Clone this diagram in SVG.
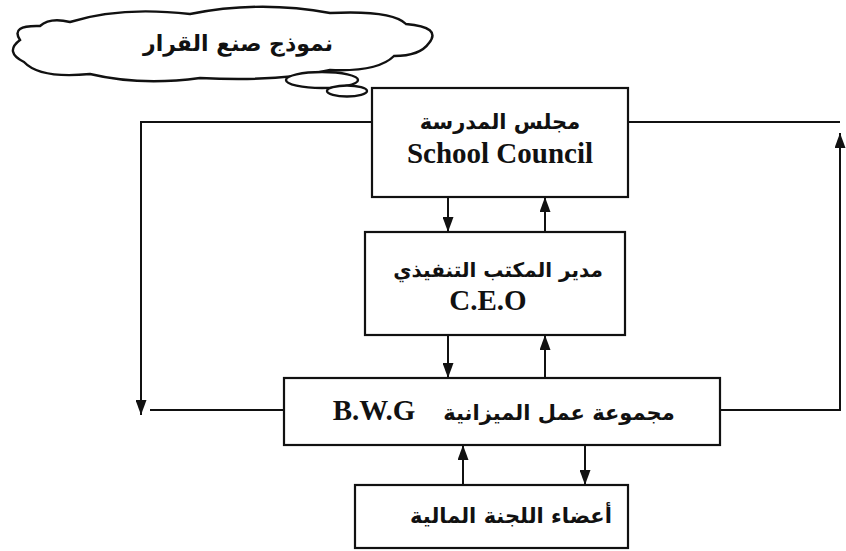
<svg xmlns="http://www.w3.org/2000/svg" width="846" height="551" viewBox="0 0 846 551">
<style>
.box{fill:#fff;stroke:#111;stroke-width:2.2}
.ln{fill:none;stroke:#111;stroke-width:2}
.ar{font-family:"DejaVu Sans","Noto Sans",sans-serif;font-weight:bold;fill:#111;text-anchor:middle}
.en{font-family:"Liberation Serif","Times New Roman",serif;font-weight:bold;fill:#111;text-anchor:middle}
.cloud{fill:#fff;stroke:#111;stroke-width:2.4}
</style>
<defs>
<marker id="ah" markerUnits="userSpaceOnUse" markerWidth="15" markerHeight="11" refX="15" refY="5.5" viewBox="0 0 15 11" orient="auto">
<path d="M0,0 L15,5.5 L0,11 Z" fill="#111"/>
</marker>
</defs>
<rect width="846" height="551" fill="#fff"/>
<g id="cloud">
<path class="cloud" d="M70,22 Q120,6 190,14 Q260,0 330,13 Q392,10 406,24 Q442,27 429,43 Q420,56 394,56 Q378,72 330,70 Q280,82 200,78 Q140,86 90,74 Q40,79 24,62 Q4,52 20,40 Q10,25 40,26 Q50,17 70,22 Z"/>
<ellipse class="cloud" cx="322" cy="80" rx="36" ry="8"/>
<ellipse class="cloud" cx="347" cy="91" rx="20" ry="5.5"/>
<text class="ar" x="238" y="51" font-size="22">نموذج صنع القرار</text>
</g>
<g id="connectors">
<line class="ln" x1="448" y1="197" x2="448" y2="232" marker-end="url(#ah)"/>
<line class="ln" x1="545" y1="232" x2="545" y2="197" marker-end="url(#ah)"/>
<line class="ln" x1="448" y1="335" x2="448" y2="378" marker-end="url(#ah)"/>
<line class="ln" x1="545" y1="378" x2="545" y2="335" marker-end="url(#ah)"/>
<line class="ln" x1="463" y1="485" x2="463" y2="445" marker-end="url(#ah)"/>
<line class="ln" x1="585" y1="445" x2="585" y2="485" marker-end="url(#ah)"/>
<polyline class="ln" points="372,122 141,122 141,415" marker-end="url(#ah)"/>
<line class="ln" x1="283" y1="410" x2="150" y2="410"/>
<line class="ln" x1="628" y1="122" x2="840" y2="122"/>
<polyline class="ln" points="720,410 840,410 840,133" marker-end="url(#ah)"/>
</g>
<g id="school-council">
<rect class="box" x="372" y="88" width="256" height="109"/>
<text class="ar" x="500" y="129" font-size="21">مجلس المدرسة</text>
<text class="en" x="500" y="163" font-size="29">School Council</text>
</g>
<g id="ceo">
<rect class="box" x="365" y="232" width="260" height="103"/>
<text class="ar" x="498" y="277" font-size="20">مدير المكتب التنفيذي</text>
<text class="en" x="488" y="310" font-size="29">C.E.O</text>
</g>
<g id="bwg">
<rect class="box" x="284" y="378" width="436" height="67"/>
<text class="ar" x="559" y="420" font-size="21">مجموعة عمل الميزانية</text>
<text class="en" x="374" y="420" font-size="29">B.W.G</text>
</g>
<g id="finance">
<rect class="box" x="355" y="485" width="273" height="63"/>
<text class="ar" x="511" y="523" font-size="21">أعضاء اللجنة المالية</text>
</g>
</svg>
